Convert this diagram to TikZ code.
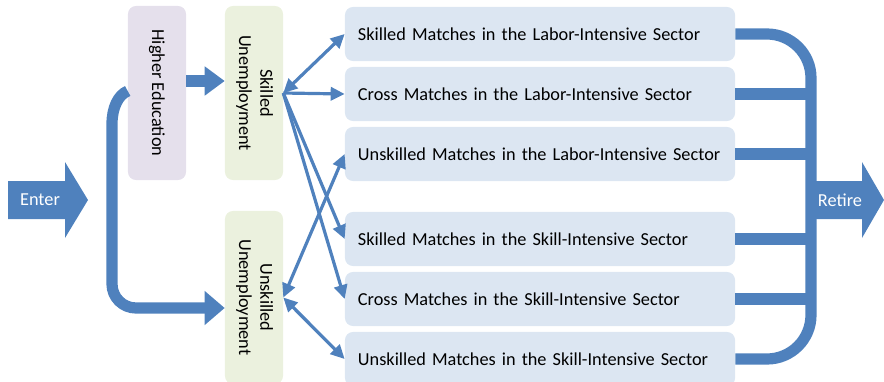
\documentclass[tikz,border=0pt]{standalone}
\usepackage{fontspec}
\setmainfont{Carlito}
\usepackage{graphicx}
\usetikzlibrary{arrows.meta}
\definecolor{flowblue}{HTML}{4F81BD}
\definecolor{matchfill}{HTML}{DCE6F2}
\definecolor{unempfill}{HTML}{EBF1DE}
\definecolor{edufill}{HTML}{E5E0EC}
\begin{document}
\begin{tikzpicture}[x=0.025cm,y=-0.025cm,line join=round,
  >={Triangle[length=0.35cm,width=0.33cm]},
  font=\fontsize{13}{15}\selectfont,
  box/.style={rounded corners=0.2cm,inner sep=0pt},
  match/.style={box,fill=matchfill,minimum width=9.75cm,minimum height=1.35cm,text width=9.1cm,align=left},
  state/.style={box,minimum width=1.45cm},
  flow/.style={draw=flowblue,line width=0.08cm},
  bigflow/.style={draw=flowblue,line width=0.28cm}]
\useasboundingbox (0,0) rectangle (884,382);

% states on the left
\node[state,fill=edufill,minimum height=4.35cm] (hedu) at (157,93) {\rotatebox{-90}{Higher Education}};
\node[state,fill=unempfill,minimum height=4.35cm] (sku) at (254,93)
  {\rotatebox{-90}{\begin{tabular}{@{}c@{}}Skilled\\Unemployment\end{tabular}}};
\node[state,fill=unempfill,minimum height=4.325cm] (unu) at (254,297.5)
  {\rotatebox{-90}{\begin{tabular}{@{}c@{}}Unskilled\\Unemployment\end{tabular}}};

% matches
\foreach \i/\y/\txt in {1/34/Skilled Matches in the Labor-Intensive Sector,
                        2/94/Cross Matches in the Labor-Intensive Sector,
                        3/154/Unskilled Matches in the Labor-Intensive Sector,
                        4/239/Skilled Matches in the Skill-Intensive Sector,
                        5/299/Cross Matches in the Skill-Intensive Sector,
                        6/359/Unskilled Matches in the Skill-Intensive Sector}
  \node[match] (m\i) at (540,\y) {\txt};

% entry
\fill[flowblue]
(8,181) -- (65,181) -- (65,162) -- (88,200) -- (65,238) -- (65,219) -- (8,219) -- cycle;
\node[text=white] (enter) at (40,200) {Enter};
\draw[bigflow,-{Triangle[length=0.5cm,width=0.82cm]}]
(hedu.west |- 0,91) .. controls (118,95) and (112,108) .. (112,124) -- (112,284)
to[out=-90,in=180] (136,308) -- (unu.west |- 0,308);
\draw[bigflow,-{Triangle[length=0.5cm,width=0.7cm]}] (hedu.east |- 0,81) -- (sku.west |- 0,81);

% flows between states
\draw[flow,<->] (sku.east) -- (m1.west);
\draw[flow,->] (sku.east) -- (m2.west);
\draw[flow,->] (sku.east) -- (m4.west);
\draw[flow,->] (sku.east) -- (m5.west);
\draw[flow,<->] (unu.east) -- (m3.west);
\draw[flow,<->] (unu.east) -- (m6.west);

% exit
\coordinate (join) at (811,200);
\draw[bigflow,rounded corners=1.1cm] (m1.east) -| (join) |- (m6.east);
\foreach \i in {2,...,5}
  \draw[bigflow] (m\i.east) -- (m\i.east -| join);
\fill[flowblue]
(811,181) -- (862,181) -- (862,162) -- (884,200) -- (862,238) -- (862,219) -- (811,219) -- cycle;
\node[text=white] (retire) at (840,200) {Retire};
\end{tikzpicture}
\end{document}
